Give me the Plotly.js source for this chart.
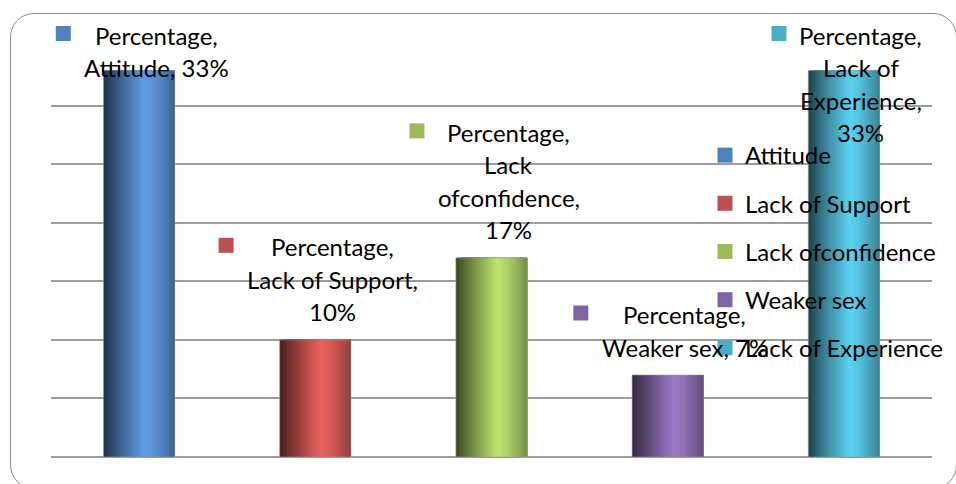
<!DOCTYPE html>
<html>
<head>
<meta charset="utf-8">
<script src="https://cdn.plot.ly/plotly-3.0.1.min.js"></script>
<style>
  html, body { margin: 0; padding: 0; background: #ffffff; }
  #wrap { position: relative; width: 956px; height: 484px; overflow: hidden; }
  #frame {
    position: absolute; left: 10px; top: 13px; width: 947px; height: 476px;
    box-sizing: border-box; border: 1.5px solid #8c8c8c; border-radius: 24px;
  }
  #chart { position: absolute; left: 0; top: 0; width: 956px; height: 484px; }
</style>
</head>
<body>
<div id="wrap">
  <div id="frame"></div>
  <div id="chart"></div>
</div>
<script>
// Survey result: share of respondents per reason
const seriesName = "Percentage";
const categories = ["Attitude", "Lack of Support", "Lack ofconfidence", "Weaker sex", "Lack of Experience"];
const percentages = [33, 10, 17, 7, 33];
const palette = ["#4F81BD", "#C0504D", "#9BBB59", "#8064A2", "#4BACC6"];

// Axis settings
const yMax = 35;
const yStep = 5;

// Geometry / style
const W = 956, H = 484;
const margin = { l: 51, r: 24, t: 47, b: 27, autoexpand: false };
const plotH = H - margin.t - margin.b;
const FONT = "Lato, 'Open Sans', sans-serif";
const FS = 24;
const barW = 0.404;
const LINE_PITCH = 32.5;
const LABEL_GAP = 28;       // px from bar top to centre of the last label line
const LABEL_MIN_TOP = 35;   // highest allowed centre of the first label line
const LABEL_DX = 17;

// cylinder-like shading profile across the bar (t, brightness factor)
const shade = [[0, 0.38], [0.1, 0.55], [0.3, 0.85], [0.58, 1.22], [0.72, 1.12], [0.9, 0.9], [1, 0.75]];

function hexRgb(h) {
  return [parseInt(h.slice(1, 3), 16), parseInt(h.slice(3, 5), 16), parseInt(h.slice(5, 7), 16)];
}
function shadeAt(t) {
  for (let i = 1; i < shade.length; i++) {
    if (t <= shade[i][0]) {
      const a = shade[i - 1], b = shade[i];
      const u = (t - a[0]) / (b[0] - a[0]);
      return a[1] + u * (b[1] - a[1]);
    }
  }
  return shade[shade.length - 1][1];
}
function shadedColor(hex, t) {
  const f = shadeAt(t);
  const c = hexRgb(hex).map(v => Math.max(0, Math.min(255, Math.round(v * f))));
  return "rgb(" + c.join(",") + ")";
}

// Label text: one line per comma-separated field, long fields wrapped by words,
// the value joined to the previous line when it stays short.
function wrapField(text, maxChars) {
  const words = text.split(" ");
  const out = [];
  let cur = "";
  words.forEach(w => {
    const cand = cur ? cur + " " + w : w;
    if (cand.length > maxChars && cur) { out.push(cur); cur = w; }
    else cur = cand;
  });
  if (cur) out.push(cur);
  return out;
}
function labelLines(cat, val) {
  let lines = [];
  [seriesName + ",", cat + ","].forEach(f => { lines = lines.concat(wrapField(f, 16)); });
  const v = val + "%";
  const last = lines[lines.length - 1];
  if ((last + " " + v).length <= 14) lines[lines.length - 1] = last + " " + v;
  else lines.push(v);
  return lines;
}

const ctx = document.createElement("canvas").getContext("2d");
ctx.font = FS + "px Lato";

const traces = [];
// each slice runs from its own start to the right edge of the bar, so later
// (further right) slices paint over earlier ones without seams
const N = 40;
const sliceW = barW / N;
for (let k = 0; k < N; k++) {
  const t = (k + 0.5) / N;
  traces.push({
    type: "bar",
    x: categories,
    y: percentages,
    offset: categories.map(() => -barW / 2 + k * sliceW),
    width: categories.map(() => barW - k * sliceW),
    marker: { color: palette.map(c => shadedColor(c, t)), line: { width: 0 } },
    showlegend: false,
    hoverinfo: "skip"
  });
}
// thin soft outline round every bar
traces.push({
  type: "bar",
  x: categories,
  y: percentages,
  offset: categories.map(() => -barW / 2),
  width: categories.map(() => barW),
  marker: { color: "rgba(0,0,0,0)", line: { width: 1, color: "rgba(150,150,150,0.55)" } },
  showlegend: false,
  hoverinfo: "skip"
});
// legend entries, one per category
categories.forEach((c, i) => {
  traces.push({
    type: "scatter",
    mode: "markers",
    x: [null], y: [null],
    name: c,
    legendgroup: "g" + i,
    marker: { symbol: "square", size: 15, color: palette[i] },
    showlegend: true,
    hoverinfo: "skip"
  });
});

const annotations = [];
const shapes = [];
categories.forEach((cat, i) => {
  const v = percentages[i];
  const lines = labelLines(cat, v);
  const n = lines.length;
  const barTopPx = margin.t + (1 - v / yMax) * plotH;
  let firstCenter = barTopPx - LABEL_GAP - (n - 1) * LINE_PITCH;
  if (firstCenter < LABEL_MIN_TOP) firstCenter = LABEL_MIN_TOP;
  let widest = 0;
  lines.forEach((ln, k) => {
    widest = Math.max(widest, ctx.measureText(ln).width);
    const center = firstCenter + k * LINE_PITCH;
    annotations.push({
      x: i, y: v, xref: "x", yref: "y",
      text: ln, showarrow: false,
      xanchor: "center", yanchor: "middle",
      xshift: LABEL_DX, yshift: barTopPx - center,
      font: { family: FONT, size: FS, color: "#000000" }
    });
  });
  // legend key in front of the first label line
  const sx0 = LABEL_DX - widest / 2 - 28;
  const sy = -(firstCenter - 1.5 - margin.t);
  shapes.push({
    type: "rect", layer: "above",
    xref: "x", xsizemode: "pixel", xanchor: i, x0: sx0, x1: sx0 + 15,
    yref: "paper", ysizemode: "pixel", yanchor: 1, y0: sy - 7.5, y1: sy + 7.5,
    fillcolor: palette[i], line: { width: 0 }
  });
});

const layout = {
  width: W, height: H,
  margin: margin,
  paper_bgcolor: "rgba(0,0,0,0)",
  plot_bgcolor: "rgba(0,0,0,0)",
  barmode: "overlay",
  showlegend: true,
  font: { family: FONT, size: FS, color: "#000000" },
  xaxis: {
    type: "category", range: [-0.5, categories.length - 0.5],
    showticklabels: false, showgrid: false, zeroline: false, showline: false, ticks: ""
  },
  yaxis: {
    range: [0, yMax], tick0: 0, dtick: yStep,
    showticklabels: false, ticks: "",
    showgrid: true, gridcolor: "#9c9c9c", gridwidth: 2,
    zeroline: true, zerolinecolor: "#9c9c9c", zerolinewidth: 2, showline: false
  },
  legend: {
    xref: "container", yref: "container",
    x: 705 / W, y: 1 - 133 / H, xanchor: "left", yanchor: "top",
    bgcolor: "rgba(0,0,0,0)", borderwidth: 0,
    font: { family: FONT, size: FS, color: "#000000" },
    tracegroupgap: 14, traceorder: "grouped", itemsizing: "trace"
  },
  annotations: annotations,
  shapes: shapes,
  hovermode: false
};

Plotly.newPlot("chart", traces, layout, { staticPlot: true, displayModeBar: false });
</script>
</body>
</html>
